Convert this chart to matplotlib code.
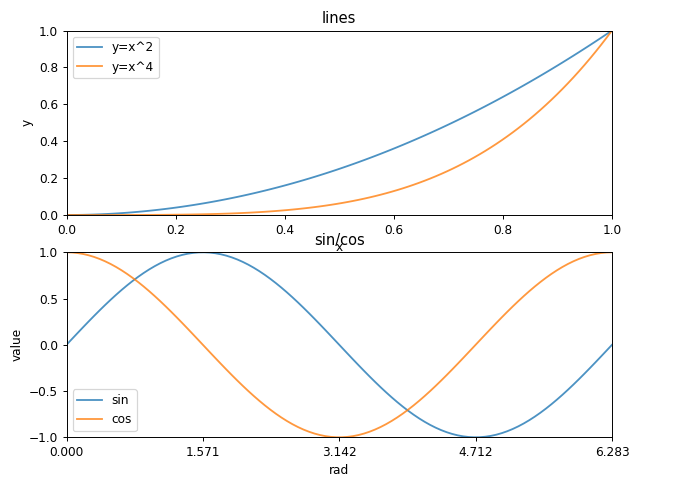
import matplotlib
matplotlib.use("Agg")
import matplotlib.pyplot as plt
import numpy as np

# top panel: power curves
x = np.linspace(0, 1, 100)
y_sq = x ** 2
y_quad = x ** 4

# bottom panel: trig curves over one period
rad = np.linspace(0, 2 * np.pi, 100)
y_sin = np.sin(rad)
y_cos = np.cos(rad)
rad_ticks = [0, np.pi / 2, np.pi, 3 * np.pi / 2, 2 * np.pi]

# the reference is rendered a bit smaller than the default, so use a lower dpi
dpi = 87.5
fig = plt.figure(figsize=(675 / dpi, 482 / dpi), dpi=dpi)
ax1 = fig.add_axes([66.5 / 675, 1 - 215 / 482, (612 - 66.5) / 675, (215 - 30.5) / 482])
ax2 = fig.add_axes([66.5 / 675, 1 - 437.3 / 482, (612 - 66.5) / 675, (437.3 - 252.3) / 482])

ax1.plot(x, y_sq, label="y=x^2", alpha=0.8)
ax1.plot(x, y_quad, label="y=x^4", alpha=0.8)
ax1.set_xlim(0, 1)
ax1.set_ylim(0, 1)
ax1.set_title("lines")
ax1.set_xlabel("x")
ax1.set_ylabel("y")
ax1.legend(loc="upper left")

ax2.plot(rad, y_sin, label="sin", alpha=0.8)
ax2.plot(rad, y_cos, label="cos", alpha=0.8)
ax2.set_xlim(0, 2 * np.pi)
ax2.set_ylim(-1, 1)
ax2.set_xticks(rad_ticks)
ax2.set_xticklabels([f"{t:.3f}" for t in rad_ticks])
ax2.set_title("sin/cos")
ax2.set_xlabel("rad")
ax2.set_ylabel("value")
ax2.legend(loc="lower left")

fig.savefig("out.png", dpi=dpi)
